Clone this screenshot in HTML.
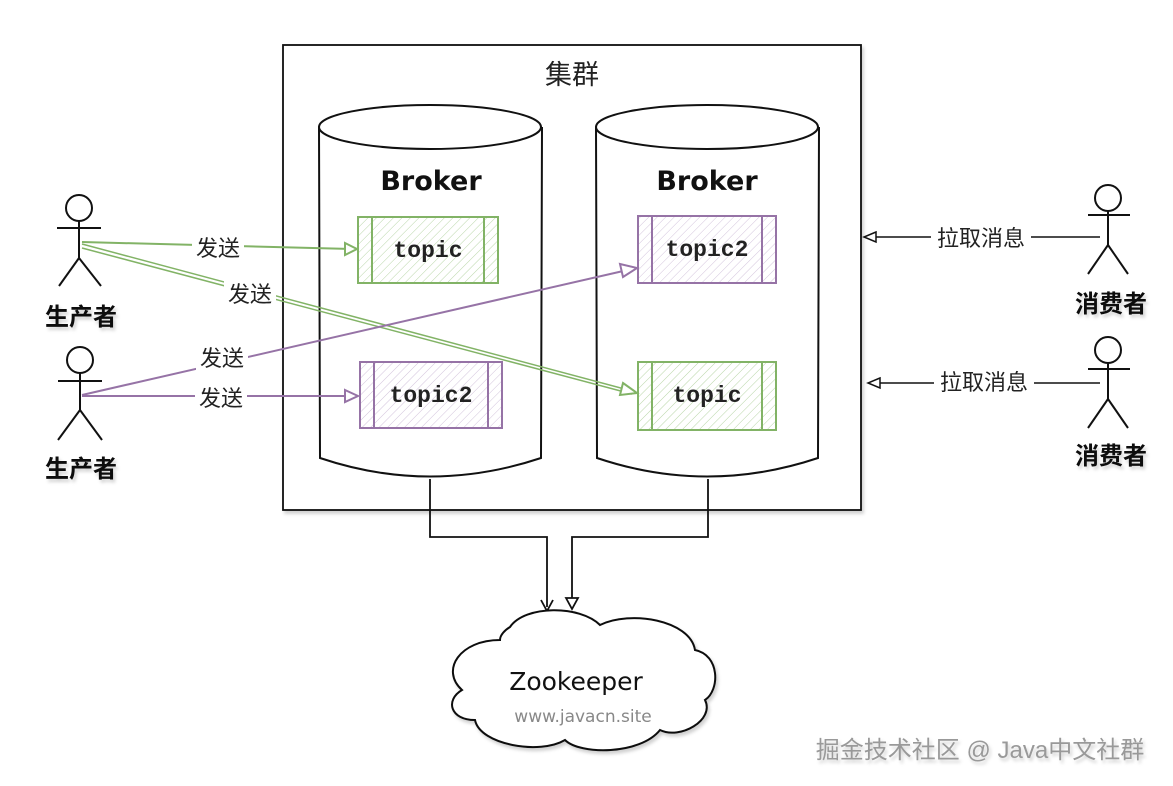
<!DOCTYPE html>
<html><head><meta charset="utf-8"><style>
html,body{margin:0;padding:0;background:#fff;}
svg{display:block;}
</style></head><body>
<svg width="1173" height="786" viewBox="0 0 1173 786" xmlns="http://www.w3.org/2000/svg">
<defs>
<pattern id="hg" width="6" height="6" patternUnits="userSpaceOnUse" patternTransform="rotate(45)">
<line x1="0" y1="0" x2="0" y2="6" stroke="#b9d6a8" stroke-width="1"/>
</pattern>
<pattern id="hp" width="6" height="6" patternUnits="userSpaceOnUse" patternTransform="rotate(45)">
<line x1="0" y1="0" x2="0" y2="6" stroke="#d3c4dc" stroke-width="1"/>
</pattern>
<filter id="sh" x="-10%" y="-10%" width="130%" height="130%"><feDropShadow dx="2" dy="3" stdDeviation="1.5" flood-color="#000" flood-opacity="0.18"/></filter>
</defs>
<style>
.cn{font-family:"Liberation Sans","Noto Sans CJK SC",sans-serif;}
.mono{font-family:"Liberation Mono",monospace;font-size:23px;font-weight:bold;fill:#222;}
.hand{font-family:"Comic Sans MS","DejaVu Sans",sans-serif;}
</style>

<rect x="283" y="45" width="578" height="465" fill="#fff" stroke="#111" stroke-width="1.8" filter="url(#sh)"/>
<text x="572" y="84" text-anchor="middle" class="cn" font-size="27" fill="#222">集群</text>

<g fill="#fff" stroke="#111" stroke-width="2">
<path d="M319 127 L320 458 Q430 495 541 458 L542 127"/>
<ellipse cx="430" cy="127" rx="111" ry="22"/>
<path d="M596 127 L597 458 Q707 495 818 458 L819 127"/>
<ellipse cx="707" cy="127" rx="111" ry="22"/>
</g>
<text x="431" y="190" text-anchor="middle" class="hand" font-size="27" font-weight="bold" fill="#111">Broker</text>
<text x="707" y="190" text-anchor="middle" class="hand" font-size="27" font-weight="bold" fill="#111">Broker</text>

<g stroke-width="2">
<rect x="358" y="217" width="140" height="66" fill="url(#hg)" stroke="#82b366"/>
<line x1="372" y1="217" x2="372" y2="283" stroke="#82b366"/><line x1="484" y1="217" x2="484" y2="283" stroke="#82b366"/>
<rect x="360" y="362" width="142" height="66" fill="url(#hp)" stroke="#9673a6"/>
<line x1="374" y1="362" x2="374" y2="428" stroke="#9673a6"/><line x1="488" y1="362" x2="488" y2="428" stroke="#9673a6"/>
<rect x="638" y="216" width="138" height="67" fill="url(#hp)" stroke="#9673a6"/>
<line x1="652" y1="216" x2="652" y2="283" stroke="#9673a6"/><line x1="762" y1="216" x2="762" y2="283" stroke="#9673a6"/>
<rect x="638" y="362" width="138" height="68" fill="url(#hg)" stroke="#82b366"/>
<line x1="652" y1="362" x2="652" y2="430" stroke="#82b366"/><line x1="762" y1="362" x2="762" y2="430" stroke="#82b366"/>
</g>
<text x="428" y="257" text-anchor="middle" class="mono">topic</text>
<text x="431" y="402" text-anchor="middle" class="mono">topic2</text>
<text x="707" y="256" text-anchor="middle" class="mono">topic2</text>
<text x="707" y="402" text-anchor="middle" class="mono">topic</text>

<g fill="none" stroke-width="2">
<line x1="82" y1="242" x2="352" y2="249" stroke="#82b366"/>
<path d="M345 243 L357 249 L345 255 Z" fill="#fff" stroke="#82b366"/>
<line x1="82" y1="244" x2="632" y2="391" stroke="#82b366" stroke-width="1.5"/>
<line x1="82" y1="248" x2="632" y2="394" stroke="#82b366" stroke-width="1.5"/>
<path d="M623 383 L637 393 L620 395 Z" fill="#fff" stroke="#82b366"/>
<line x1="82" y1="395" x2="632" y2="269" stroke="#9673a6"/>
<path d="M620 264 L637 268 L623 277 Z" fill="#fff" stroke="#9673a6"/>
<line x1="82" y1="396" x2="352" y2="396" stroke="#9673a6"/>
<path d="M345 390 L358 396 L345 402 Z" fill="#fff" stroke="#9673a6"/>
</g>
<g class="cn" font-size="22" fill="#222" text-anchor="middle">
<rect x="192" y="235" width="52" height="26" fill="#fff"/><text x="218" y="256">发送</text>
<rect x="224" y="281" width="52" height="26" fill="#fff"/><text x="250" y="302">发送</text>
<rect x="196" y="345" width="52" height="26" fill="#fff"/><text x="222" y="366">发送</text>
<rect x="195" y="385" width="52" height="26" fill="#fff"/><text x="221" y="406">发送</text>
</g>

<g fill="none" stroke="#111" stroke-width="1.5">
<line x1="1100" y1="237" x2="866" y2="237"/>
<path d="M876 232 L864 237 L876 242 Z" fill="#fff"/>
<line x1="1100" y1="383" x2="870" y2="383"/>
<path d="M880 378 L868 383 L880 388 Z" fill="#fff"/>
</g>
<g class="cn" font-size="22" fill="#222" text-anchor="middle">
<rect x="931" y="225" width="100" height="26" fill="#fff"/><text x="981" y="246">拉取消息</text>
<rect x="934" y="369" width="100" height="26" fill="#fff"/><text x="984" y="390">拉取消息</text>
</g>

<g fill="none" stroke="#111" stroke-width="2">
<g transform="translate(79,208)"><circle r="13"/><line x1="-22" y1="20" x2="22" y2="20"/><line x1="0" y1="13" x2="0" y2="50"/><line x1="0" y1="50" x2="-20" y2="78"/><line x1="0" y1="50" x2="22" y2="78"/></g>
<g transform="translate(80,360)"><circle r="13"/><line x1="-22" y1="21" x2="22" y2="21"/><line x1="0" y1="13" x2="0" y2="50"/><line x1="0" y1="50" x2="-22" y2="80"/><line x1="0" y1="50" x2="22" y2="80"/></g>
<g transform="translate(1108,198)"><circle r="13"/><line x1="-20" y1="17" x2="22" y2="17"/><line x1="0" y1="13" x2="0" y2="47"/><line x1="0" y1="47" x2="-20" y2="76"/><line x1="0" y1="47" x2="20" y2="76"/></g>
<g transform="translate(1108,350)"><circle r="13"/><line x1="-20" y1="19" x2="22" y2="19"/><line x1="0" y1="13" x2="0" y2="49"/><line x1="0" y1="49" x2="-20" y2="78"/><line x1="0" y1="49" x2="20" y2="78"/></g>
</g>
<g class="cn" font-size="24" font-weight="bold" fill="#111" text-anchor="middle" filter="url(#sh)">
<text x="81" y="325">生产者</text>
<text x="81" y="477">生产者</text>
<text x="1111" y="312">消费者</text>
<text x="1111" y="464">消费者</text>
</g>

<g fill="none" stroke="#111" stroke-width="1.8">
<path d="M430 479 L430 537 L547 537 L547 607"/>
<path d="M708 479 L708 537 L572 537 L572 605"/>
<path d="M541 600 L547 611 L553 600"/>
<path d="M566 598 L572 609 L578 598 Z" fill="#fff"/>
</g>

<path d="M510 627 C525 605 580 605 600 625 C630 610 690 620 695 650 C720 655 720 690 705 700 C715 720 680 740 660 730 C640 755 580 755 565 740 C540 755 480 745 475 720 C450 720 445 700 462 690 C440 670 460 640 500 640 C500 635 505 630 510 627 Z" fill="#fff" stroke="#111" stroke-width="2" filter="url(#sh)"/>
<text x="576" y="690" text-anchor="middle" class="hand" font-size="25" fill="#111">Zookeeper</text>
<text x="583" y="722" text-anchor="middle" class="hand" font-size="17" fill="#888">www.javacn.site</text>

<text x="980" y="758" text-anchor="middle" class="cn" font-size="24" fill="#999" filter="url(#sh)">掘金技术社区 @ Java中文社群</text>
</svg>
</body></html>
